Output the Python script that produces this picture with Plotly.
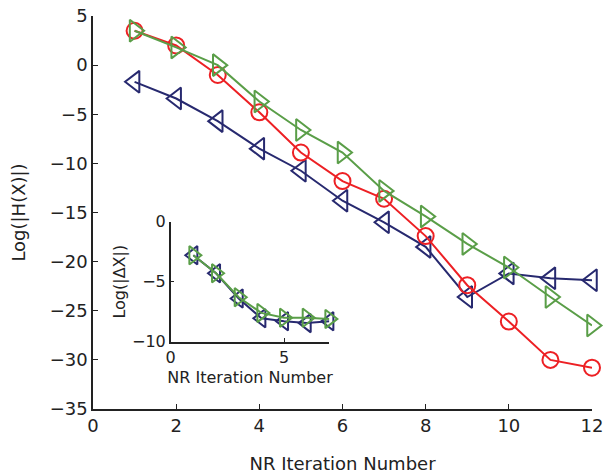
import plotly.graph_objects as go

iters = list(range(1, 13))
red_h = [3.5, 2.0, -1.0, -4.8, -8.9, -11.8, -13.6, -17.4, -22.4, -26.1, -30.0, -30.8]
green_h = [3.5, 1.8, 0.0, -3.7, -6.6, -8.9, -12.8, -15.4, -18.2, -20.6, -23.6, -26.5]
blue_h = [-1.7, -3.4, -5.7, -8.5, -10.75, -13.8, -16.0, -18.5, -23.6, -21.2, -21.7, -21.9]

inset_iters = list(range(1, 8))
blue_dx = [-2.8, -4.3, -6.4, -8.05, -8.3, -8.45, -8.3]
green_dx = [-2.8, -4.3, -6.3, -7.6, -8.0, -8.0, -8.1]

RED = "#ED2024"
GREEN = "#5A9E48"
BLUE = "#27296F"
FONT = "DejaVu Sans, Arial, sans-serif"
INK = "#222"

fig = go.Figure()

def add(x, y, color, symbol, size, xa="x", ya="y"):
    fig.add_trace(go.Scatter(
        x=x, y=y, mode="lines+markers", xaxis=xa, yaxis=ya, cliponaxis=False,
        line=dict(color=color, width=2),
        marker=dict(symbol=symbol, size=size, color=color, line=dict(color=color, width=2)),
        showlegend=False))

add(iters, blue_h, BLUE, "triangle-left-open", 19)
add(iters, red_h, RED, "circle-open", 16)
add(iters, green_h, GREEN, "triangle-right-open", 19)

add(inset_iters, blue_dx, BLUE, "triangle-left-open", 16, "x2", "y2")
add(inset_iters, green_dx, GREEN, "triangle-right-open", 16, "x2", "y2")

def axis_style(size, ticklen):
    return dict(showgrid=False, zeroline=False, showline=True, linecolor=INK,
                linewidth=1.5, ticks="inside", ticklen=ticklen, tickcolor=INK,
                automargin=False,
                tickfont=dict(family=FONT, size=size, color=INK))

fig.update_layout(
    width=605, height=475,
    margin=dict(l=93, r=13, t=16, b=66),
    plot_bgcolor="white", paper_bgcolor="white",
    font=dict(family=FONT, color=INK),
    xaxis=dict(range=[0, 12], tickvals=[0, 2, 4, 6, 8, 10, 12], domain=[0, 1],
               title=dict(text="NR Iteration Number", font=dict(family=FONT, size=18, color=INK), standoff=22),
               **axis_style(18, 5)),
    yaxis=dict(range=[-35, 5], tickvals=[5, 0, -5, -10, -15, -20, -25, -30, -35],
               ticktext=["5", "0", "\u22125", "\u221210", "\u221215", "\u221220", "\u221225", "\u221230", "\u221235"],
               title=dict(text="Log(|H(X)|)", font=dict(family=FONT, size=18, color=INK), standoff=19),
               **axis_style(18, 5)),
    xaxis2=dict(anchor="y2", domain=[0.1557, 0.4737], range=[0, 7], tickvals=[0, 5],
                title=dict(text="NR Iteration Number", font=dict(family=FONT, size=16, color=INK), standoff=6),
                **axis_style(16, 4)),
    yaxis2=dict(anchor="x2", domain=[0.1712, 0.4766], range=[-10, 0], tickvals=[0, -5, -10],
                ticktext=["0", "\u22125", "\u221210"],
                title=dict(text="Log(|\u0394X|)", font=dict(family=FONT, size=16, color=INK), standoff=2),
                **axis_style(16, 4)),
)

fig.write_html("out.html")
